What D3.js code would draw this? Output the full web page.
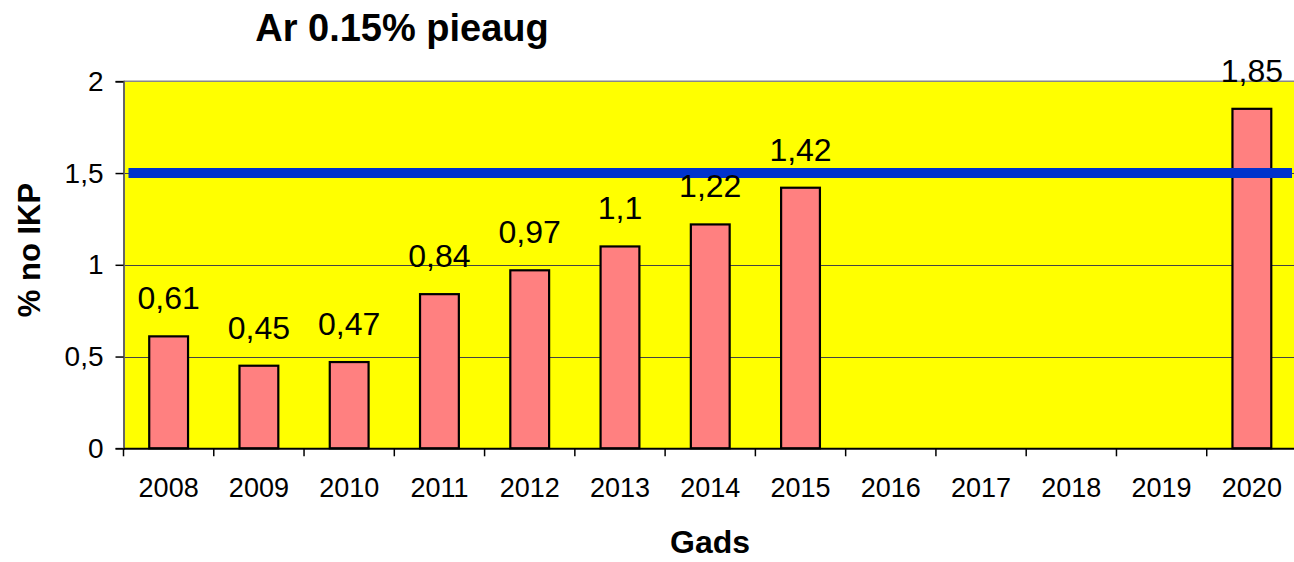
<!DOCTYPE html>
<html>
<head>
<meta charset="utf-8">
<script src="https://cdn.jsdelivr.net/npm/d3@7"></script>
<style>
html,body{margin:0;padding:0;background:#fff;}
svg{display:block;font-family:"Liberation Sans",Arial,sans-serif;}
</style>
</head>
<body>
<svg id="chart" width="1294" height="562"></svg>
<script>
const years = ["2008","2009","2010","2011","2012","2013","2014","2015","2016","2017","2018","2019","2020"];
const values = [0.61,0.45,0.47,0.84,0.97,1.1,1.22,1.42,null,null,null,null,1.85];
const valueLabels = ["0,61","0,45","0,47","0,84","0,97","1,1","1,22","1,42","","","","","1,85"];
const yTicks = [0,0.5,1,1.5,2];
const yTickLabels = ["0","0,5","1","1,5","2"];
const targetLevel = 1.5;
const titleText = "Ar 0.15% pieaug";
const xTitle = "Gads";
const yTitle = "% no IKP";

const svg = d3.select("#chart");
const m = {left:123.5, right:1297, top:81.3, bottom:448.3};

const x = d3.scaleBand().domain(years).range([m.left, m.right]).paddingInner(0).paddingOuter(0);
const y = d3.scaleLinear().domain([0,2]).range([m.bottom, m.top]);

// plot background
svg.append("rect").attr("x",m.left).attr("y",m.top)
  .attr("width",m.right-m.left).attr("height",m.bottom-m.top)
  .attr("fill","#ffff00");
// top border
svg.append("line").attr("x1",m.left).attr("x2",m.right).attr("y1",m.top).attr("y2",m.top)
  .attr("stroke","#888").attr("stroke-width",1.5);

// gridlines
svg.append("g").selectAll("line").data(yTicks.filter(d=>d>0 && d<2)).join("line")
  .attr("x1",m.left).attr("x2",m.right)
  .attr("y1",d=>Math.round(y(d))+0.5).attr("y2",d=>Math.round(y(d))+0.5)
  .attr("stroke","#444").attr("stroke-width",1);

// bars
const bw = x.bandwidth()*0.43;
const barData = years.map((yr,i)=>({yr,v:values[i],l:valueLabels[i]})).filter(d=>d.v!=null);
svg.append("g").selectAll("rect").data(barData).join("rect")
  .attr("x",d=>x(d.yr)+x.bandwidth()/2-bw/2)
  .attr("y",d=>y(d.v))
  .attr("width",bw)
  .attr("height",d=>y(0)-y(d.v))
  .attr("fill","#ff8080").attr("stroke","#000").attr("stroke-width",2.2);

// target line
svg.append("line").attr("x1",m.left+5).attr("x2",1292)
  .attr("y1",y(targetLevel)).attr("y2",y(targetLevel))
  .attr("stroke","#0033cc").attr("stroke-width",10);

// value labels
svg.append("g").selectAll("text").data(barData).join("text")
  .attr("x",d=>x(d.yr)+x.bandwidth()/2)
  .attr("y",d=>y(d.v)-27)
  .attr("text-anchor","middle")
  .attr("font-size",32).attr("fill","#000")
  .text(d=>d.l);

// y axis
const yAxis = d3.axisLeft(y).tickValues(yTicks).tickSize(8).tickPadding(12)
  .tickFormat((d,i)=>yTickLabels[i]);
const gy = svg.append("g").attr("transform",`translate(${m.left},0)`).call(yAxis);
gy.select(".domain").attr("stroke","#666").attr("stroke-width",2);
gy.selectAll(".tick line").attr("stroke","#000").attr("stroke-width",1.5);
gy.selectAll(".tick text").attr("font-size",28).attr("fill","#000").attr("font-family","Liberation Sans, Arial, sans-serif");

// x axis
const xAxis = d3.axisBottom(x).tickSize(0).tickPadding(0);
const gx = svg.append("g").attr("transform",`translate(0,${m.bottom})`).call(xAxis);
gx.select(".domain").attr("stroke","#000").attr("stroke-width",2);
gx.selectAll(".tick text").attr("font-size",27).attr("fill","#000").attr("dy",null)
  .attr("y",49).attr("font-family","Liberation Sans, Arial, sans-serif");
// category boundary ticks
svg.append("g").selectAll("line").data(years).join("line")
  .attr("x1",d=>x(d)).attr("x2",d=>x(d))
  .attr("y1",m.bottom).attr("y2",m.bottom+8)
  .attr("stroke","#000").attr("stroke-width",1.5);

// titles
svg.append("text").attr("x",402).attr("y",41).attr("text-anchor","middle")
  .attr("font-size",38).attr("font-weight","bold").text(titleText);
svg.append("text").attr("x",710).attr("y",553).attr("text-anchor","middle")
  .attr("font-size",32).attr("font-weight","bold").text(xTitle);
svg.append("text").attr("transform","translate(40,250) rotate(-90)").attr("text-anchor","middle")
  .attr("font-size",31).attr("font-weight","bold").text(yTitle);
</script>
</body>
</html>
